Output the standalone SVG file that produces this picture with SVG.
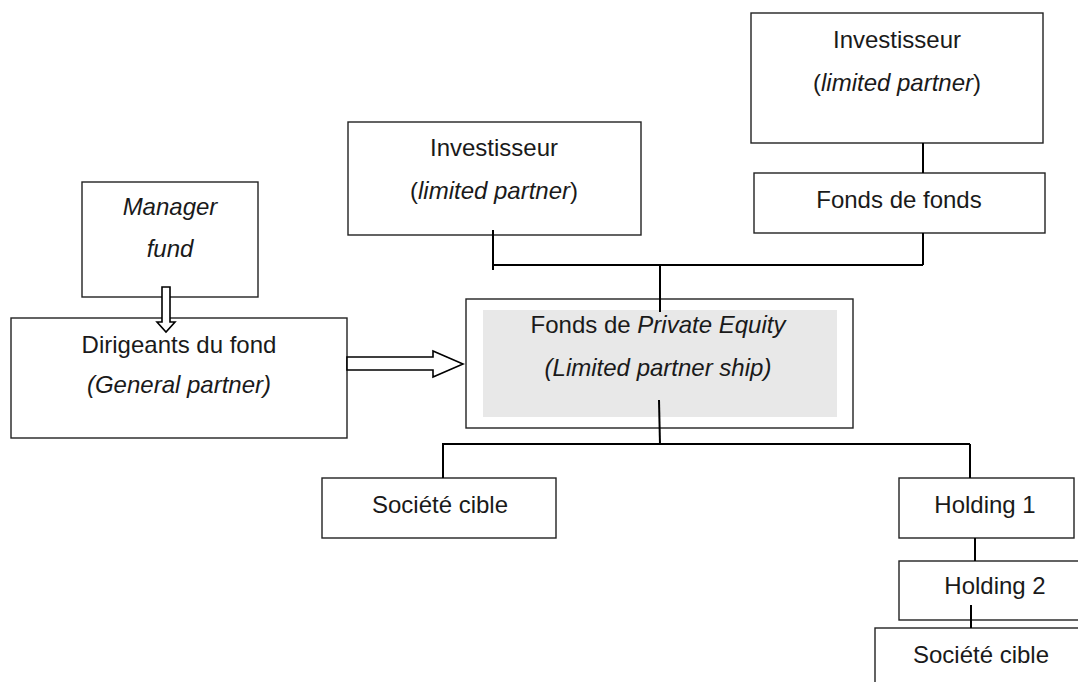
<svg xmlns="http://www.w3.org/2000/svg" width="1078" height="682" viewBox="0 0 1078 682">
<style>
  .box { fill: #ffffff; stroke: #222; stroke-width: 1.4; }
  .inner { fill: #e8e8e8; stroke: none; }
  .conn { fill: none; stroke: #000; stroke-width: 2; }
  .harrow { fill: #ffffff; stroke: #000; stroke-width: 1.6; stroke-linejoin: miter; }
  text { font-family: "Liberation Sans", Arial, sans-serif; font-size: 24px; fill: #1a1a1a; text-anchor: middle; }
  .it { font-style: italic; }
</style>
<rect width="1078" height="682" fill="#ffffff"/>

<g id="investisseur-top">
  <rect class="box" x="751" y="13" width="292" height="130"/>
  <text x="897" y="48">Investisseur</text>
  <text x="897" y="91">(<tspan class="it">limited partner</tspan>)</text>
</g>

<g id="fonds-de-fonds">
  <rect class="box" x="754" y="173" width="291" height="60"/>
  <text x="899" y="208">Fonds de fonds</text>
</g>

<g id="investisseur-mid">
  <rect class="box" x="348" y="122" width="293" height="113"/>
  <text x="494" y="156">Investisseur</text>
  <text x="494" y="199">(<tspan class="it">limited partner</tspan>)</text>
</g>

<g id="manager-fund">
  <rect class="box" x="82" y="182" width="176" height="115"/>
  <text class="it" x="170" y="215">Manager</text>
  <text class="it" x="170" y="257">fund</text>
</g>

<g id="dirigeants">
  <rect class="box" x="11" y="318" width="336" height="120"/>
  <text x="179" y="353">Dirigeants du fond</text>
  <text class="it" x="179" y="393">(General partner)</text>
</g>

<g id="fonds-pe">
  <rect class="box" x="466" y="299" width="387" height="129"/>
  <rect class="inner" x="483" y="310" width="354" height="107"/>
  <text x="658" y="333">Fonds de <tspan class="it">Private Equity</tspan></text>
  <text class="it" x="658" y="376">(Limited partner ship)</text>
</g>

<g id="societe-cible-1">
  <rect class="box" x="322" y="478" width="234" height="60"/>
  <text x="440" y="513">Société cible</text>
</g>

<g id="holding-1">
  <rect class="box" x="899" y="478" width="175" height="60"/>
  <text x="985" y="513">Holding 1</text>
</g>

<g id="holding-2">
  <rect class="box" x="899" y="561" width="200" height="59"/>
  <text x="995" y="594">Holding 2</text>
</g>

<g id="societe-cible-2">
  <rect class="box" x="875" y="628" width="230" height="80"/>
  <text x="981" y="663">Société cible</text>
</g>

<g id="connectors">
  <line class="conn" x1="493" y1="230" x2="493" y2="270"/>
  <line class="conn" x1="493" y1="265" x2="923" y2="265"/>
  <line class="conn" x1="923" y1="233" x2="923" y2="265"/>
  <line class="conn" x1="923" y1="143" x2="923" y2="173"/>
  <line class="conn" x1="660" y1="265" x2="660" y2="312"/>
  <line class="conn" x1="659" y1="400" x2="660" y2="445"/>
  <line class="conn" x1="442" y1="444" x2="970" y2="444"/>
  <line class="conn" x1="443" y1="444" x2="443" y2="478"/>
  <line class="conn" x1="970" y1="444" x2="970" y2="478"/>
  <line class="conn" x1="975" y1="538" x2="975" y2="561"/>
  <line class="conn" x1="971" y1="605" x2="971" y2="628"/>
  <polygon id="arrow-down" class="harrow" points="162,287 170,287 170,322 175,322 166,332 157,322 162,322"/>
  <polygon id="arrow-right" class="harrow" points="347,357 433,357 433,351 463,364 433,377 433,370 347,370"/>
</g>
</svg>
